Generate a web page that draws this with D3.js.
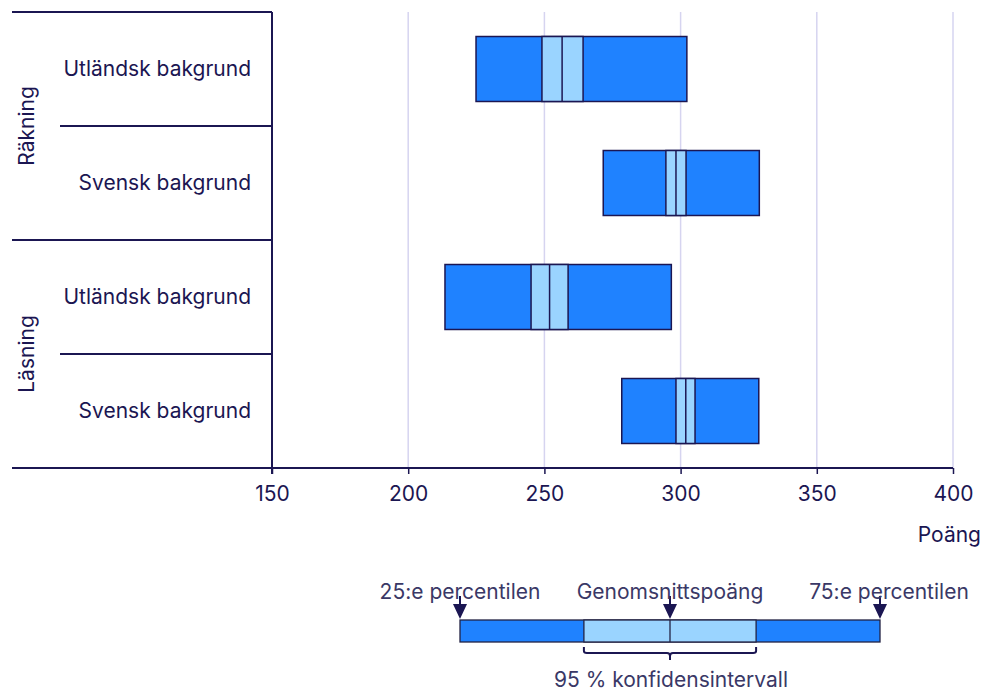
<!DOCTYPE html>
<html><head><meta charset="utf-8">
<script src="https://cdn.jsdelivr.net/npm/d3@7"></script>
<style>
html,body{margin:0;padding:0;background:#fff;}
svg{display:block;font-family:Inter,"Noto Sans",sans-serif;}
</style></head>
<body>
<svg id="chart" width="991" height="691"></svg>
<script>
// ---- data ----
const groups = ["Räkning", "Läsning"];
const categories = ["Utländsk bakgrund", "Svensk bakgrund", "Utländsk bakgrund", "Svensk bakgrund"];
const rowGroup = [0, 0, 1, 1];
const p25    = [224.9, 271.6, 213.5, 278.4];
const ciLow  = [249.1, 294.6, 245.1, 298.3];
const means  = [256.5, 298.3, 251.9, 301.9];
const ciHigh = [264.2, 302.0, 258.7, 305.3];
const p75    = [302.3, 328.9, 296.6, 328.7];
const xTicks = [150, 200, 250, 300, 350, 400];
const axisTitle = "Poäng";
// legend (schematic example)
const legendVals = [0, 29.5, 50, 70.5, 100]; // p25, ciLow, mean, ciHigh, p75
const legendLabels = ["25:e percentilen", "Genomsnittspoäng", "75:e percentilen"];
const legendCI = "95 % konfidensintervall";

// ---- styles ----
const navy = "#1b1652";
const grid = "#d6d4f0";
const barFill = "#1f82ff";
const ciFill = "#9ad4ff";
const legendText = "#3a3866";
const fs = 21;

const svg = d3.select("#chart");
const margin = {left: 272, right: 38, top: 12, bottom: 223};
const W = 991, H = 691;
const x = d3.scaleLinear().domain([150, 400]).range([margin.left, W - margin.right]);
const y = d3.scaleBand().domain(d3.range(categories.length)).range([margin.top, H - margin.bottom]).paddingInner(0.43).paddingOuter(0.215);
const yTop = margin.top, yBot = H - margin.bottom;
const rowStep = y.step();

// gridlines
svg.append("g").selectAll("line").data(xTicks.slice(1)).join("line")
  .attr("x1", d => x(d)).attr("x2", d => x(d))
  .attr("y1", yTop).attr("y2", yBot)
  .attr("stroke", grid).attr("stroke-width", 1.5);

// bottom axis
const axisG = svg.append("g").attr("transform", `translate(0,${yBot})`)
  .call(d3.axisBottom(x).tickValues(xTicks).tickSize(6).tickPadding(12));
axisG.select(".domain").remove();
axisG.selectAll("line").attr("stroke", navy).attr("stroke-width", 1.5);
axisG.selectAll("text").attr("fill", navy).attr("font-size", fs).attr("font-family", "Inter");
svg.append("line").attr("x1", 12).attr("x2", x(400)).attr("y1", yBot).attr("y2", yBot)
  .attr("stroke", navy).attr("stroke-width", 2);

// left structure
svg.append("line").attr("x1", margin.left).attr("x2", margin.left).attr("y1", yTop).attr("y2", yBot + 6)
  .attr("stroke", navy).attr("stroke-width", 2);
const rowBounds = d3.range(categories.length + 1).map(i => yTop + i * rowStep);
svg.append("g").selectAll("line").data(rowBounds).join("line")
  .attr("x1", (d, i) => (i % 2 === 0 ? 12 : 60)).attr("x2", margin.left)
  .attr("y1", d => d).attr("y2", d => d)
  .attr("stroke", navy).attr("stroke-width", 2);

// category labels
svg.append("g").selectAll("text").data(categories).join("text")
  .attr("x", 251).attr("y", (d, i) => y(i) + y.bandwidth() / 2)
  .attr("dy", "0.35em").attr("text-anchor", "end")
  .attr("fill", navy).attr("font-size", fs).text(d => d);

// group labels
groups.forEach((g, gi) => {
  const idx = rowGroup.map((r, i) => r === gi ? i : -1).filter(i => i >= 0);
  const cy = (yTop + idx[0] * rowStep + yTop + (idx[idx.length - 1] + 1) * rowStep) / 2;
  svg.append("text").attr("transform", `translate(27,${cy}) rotate(-90)`)
    .attr("dy", "0.35em").attr("text-anchor", "middle")
    .attr("fill", navy).attr("font-size", fs).text(g);
});

// bars
const rows = svg.append("g").selectAll("g").data(categories).join("g");
rows.append("rect").attr("x", (d, i) => x(p25[i])).attr("width", (d, i) => x(p75[i]) - x(p25[i]))
  .attr("y", (d, i) => y(i)).attr("height", y.bandwidth())
  .attr("fill", barFill).attr("stroke", navy).attr("stroke-width", 1.5);
rows.append("rect").attr("x", (d, i) => x(ciLow[i])).attr("width", (d, i) => x(ciHigh[i]) - x(ciLow[i]))
  .attr("y", (d, i) => y(i)).attr("height", y.bandwidth())
  .attr("fill", ciFill).attr("stroke", navy).attr("stroke-width", 1.5);
rows.append("line").attr("x1", (d, i) => x(means[i])).attr("x2", (d, i) => x(means[i]))
  .attr("y1", (d, i) => y(i)).attr("y2", (d, i) => y(i) + y.bandwidth())
  .attr("stroke", navy).attr("stroke-width", 1.5);

// axis title
svg.append("text").attr("x", 981).attr("y", 542).attr("text-anchor", "end")
  .attr("fill", navy).attr("font-size", fs).text(axisTitle);

// ---- legend ----
const lx = d3.scaleLinear().domain([0, 100]).range([460, 880]);
const lTop = 620, lH = 22;
const lg = svg.append("g");
lg.append("rect").attr("x", lx(legendVals[0])).attr("width", lx(legendVals[4]) - lx(legendVals[0]))
  .attr("y", lTop).attr("height", lH).attr("fill", barFill).attr("stroke", "#222244").attr("stroke-width", 1.3);
lg.append("rect").attr("x", lx(legendVals[1])).attr("width", lx(legendVals[3]) - lx(legendVals[1]))
  .attr("y", lTop).attr("height", lH).attr("fill", ciFill).attr("stroke", "#222244").attr("stroke-width", 1.3);
lg.append("line").attr("x1", lx(legendVals[2])).attr("x2", lx(legendVals[2]))
  .attr("y1", lTop).attr("y2", lTop + lH).attr("stroke", "#222244").attr("stroke-width", 1.3);

const arrowVals = [legendVals[0], legendVals[2], legendVals[4]];
const labelOffsets = [0, 0, 9];
arrowVals.forEach((v, i) => {
  const ax = lx(v);
  lg.append("line").attr("x1", ax).attr("x2", ax).attr("y1", 596).attr("y2", 606)
    .attr("stroke", navy).attr("stroke-width", 2);
  lg.append("path").attr("d", `M${ax - 7},${604} L${ax + 7},${604} L${ax},${619} Z`).attr("fill", navy);
  lg.append("text").attr("x", ax + labelOffsets[i]).attr("y", 599).attr("text-anchor", "middle")
    .attr("fill", legendText).attr("font-size", fs).text(legendLabels[i]);
});
// brace
const b1 = lx(legendVals[1]), b2 = lx(legendVals[3]), bm = lx(legendVals[2]);
lg.append("path")
  .attr("d", `M${b1},${647} L${b1},${651} Q${b1},${653} ${b1 + 3},${653} L${bm - 3},${653} Q${bm},${653} ${bm},${656} L${bm},${660} M${bm},${656} Q${bm},${653} ${bm + 3},${653} L${b2 - 3},${653} Q${b2},${653} ${b2},${651} L${b2},${647}`)
  .attr("fill", "none").attr("stroke", navy).attr("stroke-width", 2);
lg.append("text").attr("x", bm + 1).attr("y", 687).attr("text-anchor", "middle")
  .attr("fill", legendText).attr("font-size", fs).text(legendCI);
</script>
</body></html>
